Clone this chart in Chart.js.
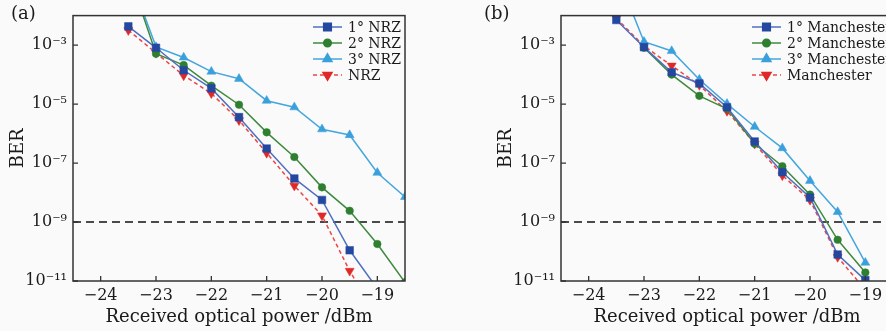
<!DOCTYPE html>
<html>
<head>
<meta charset="utf-8">
<script src="https://cdn.jsdelivr.net/npm/chart.js@4"></script>
<style>
html, body { margin: 0; padding: 0; background: #fafafa; overflow: hidden; width: 886px; height: 331px; }
.panel { position: absolute; top: 0; width: 420px; height: 331px; }
.tag { position: absolute; top: 2px; font: 18px "DejaVu Serif", serif; color: #1a1a1a; }
</style>
</head>
<body>
<div class="panel" style="left:0"><canvas id="chartA" width="420" height="331"></canvas></div>
<div class="panel" style="left:488px"><canvas id="chartB" width="420" height="331"></canvas></div>
<div class="tag" style="left:11px">(a)</div>
<div class="tag" style="left:484px">(b)</div>
<script>
// received optical power, dBm
const powers = [-23.5, -23, -22.5, -22, -21.5, -21, -20.5, -20, -19.5, -19, -18.5];
const xTicks = [-24, -23, -22, -21, -20, -19];
const yTicks = [1e-11, 1e-9, 1e-7, 1e-5, 1e-3];
const threshold = 1e-9;

// (a) NRZ
const nrz1 = [4.3e-3, 8.1e-4, 1.4e-4, 3.4e-5, 3.6e-6, 3.1e-7, 3.0e-8, 5.6e-9, 1.1e-10, 5.5e-12, null];
const nrz2 = [0.3, 5.1e-4, 2.1e-4, 4.2e-5, 9.5e-6, 1.1e-6, 1.6e-7, 1.5e-8, 2.4e-9, 1.8e-10, 9e-12];
const nrz3 = [0.3, 8.7e-4, 3.8e-4, 1.26e-4, 7.2e-5, 1.3e-5, 7.8e-6, 1.4e-6, 8.9e-7, 4.7e-8, 7.1e-9];
const nrz0 = [3.2e-3, 5.4e-4, 9.3e-5, 2.3e-5, 2.8e-6, 2.2e-7, 1.7e-8, 1.66e-9, 2.2e-11, 6e-13, null];

// (b) Manchester
const man1 = [7.1e-3, 8.5e-4, 1.2e-4, 5.0e-5, 7.8e-6, 5.4e-7, 4.9e-8, 6.8e-9, 7.9e-11, 1.07e-11, null];
const man2 = [null, 8.1e-4, 1.0e-4, 1.9e-5, 6.9e-6, 4.5e-7, 7.8e-8, 8.5e-9, 2.5e-10, 1.95e-11, null];
const man3 = [0.3, 1.3e-3, 6.3e-4, 6.8e-5, 1.02e-5, 1.7e-6, 3.2e-7, 2.5e-8, 2.2e-9, 4.2e-11, null];
const man0 = [8.1e-3, 9.3e-4, 2.0e-4, 4.4e-5, 5.8e-6, 4.5e-7, 3.8e-8, 5.6e-9, 6.5e-11, 5e-12, null];

const FONT = '"DejaVu Serif", serif';
const INK = '#1a1a1a';
const SUP = { '-': '\u207B', '0': '\u2070', '1': '\u00B9', '2': '\u00B2', '3': '\u00B3', '4': '\u2074',
  '5': '\u2075', '6': '\u2076', '7': '\u2077', '8': '\u2078', '9': '\u2079' };

const styles = [
  { line: '#4f6fc0', fill: '#2448a0', shape: 'rect', radius: 5.4, rot: 0, dash: [] },
  { line: '#3f8a3f', fill: '#2e8030', shape: 'circle', radius: 3.8, rot: 0, dash: [] },
  { line: '#45a6de', fill: '#3aa0dc', shape: 'triangle', radius: 5.2, rot: 0, dash: [] },
  { line: '#ee4444', fill: '#e02828', shape: 'triangle', radius: 5.2, rot: 180, dash: [4, 3] }
];

function points(values) {
  return powers.map((p, i) => ({ x: p, y: values[i] })).filter(d => d.y !== null);
}

function makeDatasets(series, labels) {
  const sets = series.map((values, i) => {
    const s = styles[i];
    return {
      label: labels[i],
      data: points(values),
      borderColor: s.line,
      backgroundColor: s.fill,
      borderWidth: 1.5,
      borderDash: s.dash,
      pointStyle: s.shape,
      pointRadius: s.radius,
      pointRotation: s.rot,
      pointBorderColor: s.fill,
      pointBackgroundColor: s.fill,
      pointBorderWidth: 0.5,
      tension: 0
    };
  });
  sets.push({
    label: '_threshold',
    data: [{ x: -24.5, y: threshold }, { x: -18.5, y: threshold }],
    borderColor: '#111',
    borderWidth: 1.6,
    borderDash: [8, 5],
    pointRadius: 0
  });
  return sets;
}

// box frame, inward tick marks and the in-plot legend
const framePlugin = {
  id: 'frame',
  afterDatasetsDraw(chart, args, opts) {
    const { ctx, chartArea: a, scales } = chart;
    ctx.save();
    ctx.strokeStyle = '#333';
    ctx.lineWidth = 1.3;
    ctx.beginPath();
    scales.x.ticks.forEach(t => {
      const px = scales.x.getPixelForValue(t.value);
      ctx.moveTo(px, a.bottom);
      ctx.lineTo(px, a.bottom - 5);
    });
    scales.y.ticks.forEach(t => {
      const py = scales.y.getPixelForValue(t.value);
      ctx.moveTo(a.left, py);
      ctx.lineTo(a.left + 5, py);
    });
    ctx.stroke();
    ctx.lineWidth = 1.5;
    ctx.strokeRect(a.left, a.top, a.right - a.left, a.bottom - a.top);

    // legend
    const lx = opts.x, ly = opts.y;
    ctx.font = '14px ' + FONT;
    ctx.textBaseline = 'middle';
    ctx.fillStyle = INK;
    chart.data.datasets.forEach((ds, i) => {
      if (ds.label.startsWith('_')) return;
      const y = ly + i * 16;
      ctx.save();
      ctx.strokeStyle = ds.borderColor;
      ctx.lineWidth = 1.5;
      ctx.setLineDash(ds.borderDash);
      ctx.beginPath();
      ctx.moveTo(lx, y);
      ctx.lineTo(lx + 29, y);
      ctx.stroke();
      ctx.setLineDash([]);
      ctx.fillStyle = ds.pointBackgroundColor;
      ctx.strokeStyle = ds.pointBorderColor;
      Chart.helpers.drawPoint(ctx, {
        pointStyle: ds.pointStyle, radius: ds.pointRadius, rotation: ds.pointRotation, borderWidth: 0.5
      }, lx + 14.5, y);
      ctx.restore();
      ctx.fillText(ds.label, lx + 35, y + 1);
    });
    ctx.restore();
  }
};

function makeChart(id, series, labels, legendPos) {
  return new Chart(document.getElementById(id), {
    type: 'line',
    data: { datasets: makeDatasets(series, labels) },
    plugins: [framePlugin],
    options: {
      responsive: false,
      animation: false,
      layout: { padding: { left: 0, top: 11, right: 15, bottom: 0 } },
      plugins: {
        legend: { display: false },
        tooltip: { enabled: false },
        frame: legendPos
      },
      scales: {
        x: {
          type: 'linear',
          min: -24.5,
          max: -18.5,
          afterBuildTicks: s => { s.ticks = xTicks.map(v => ({ value: v })); },
          afterFit: s => { s.height = 50; },
          grid: { display: false, drawTicks: false },
          border: { display: false },
          ticks: {
            padding: 5,
            color: INK,
            font: { family: FONT, size: 16 },
            callback: v => '\u2212' + Math.abs(v)
          },
          title: {
            display: true,
            text: 'Received optical power /dBm',
            color: INK,
            font: { family: FONT, size: 18 },
            padding: { top: 0, bottom: 3 }
          }
        },
        y: {
          type: 'logarithmic',
          min: 1e-11,
          max: 1e-2,
          afterBuildTicks: s => { s.ticks = yTicks.map(v => ({ value: v })); },
          afterFit: s => { s.width = 73; },
          grid: { display: false, drawTicks: false },
          border: { display: false },
          ticks: {
            padding: 6,
            color: INK,
            font: { family: FONT, size: 16 },
            callback: v => '10' + String(Math.round(Math.log10(v))).split('').map(c => SUP[c]).join('')
          },
          title: {
            display: true,
            text: 'BER',
            color: INK,
            font: { family: FONT, size: 18 },
            padding: { top: 8, bottom: 0 }
          }
        }
      }
    }
  });
}

makeChart('chartA', [nrz1, nrz2, nrz3, nrz0], ['1\u00B0 NRZ', '2\u00B0 NRZ', '3\u00B0 NRZ', 'NRZ'], { x: 313, y: 27 });
makeChart('chartB', [man1, man2, man3, man0],
  ['1\u00B0 Manchester', '2\u00B0 Manchester', '3\u00B0 Manchester', 'Manchester'], { x: 264, y: 27 });
</script>
</body>
</html>
